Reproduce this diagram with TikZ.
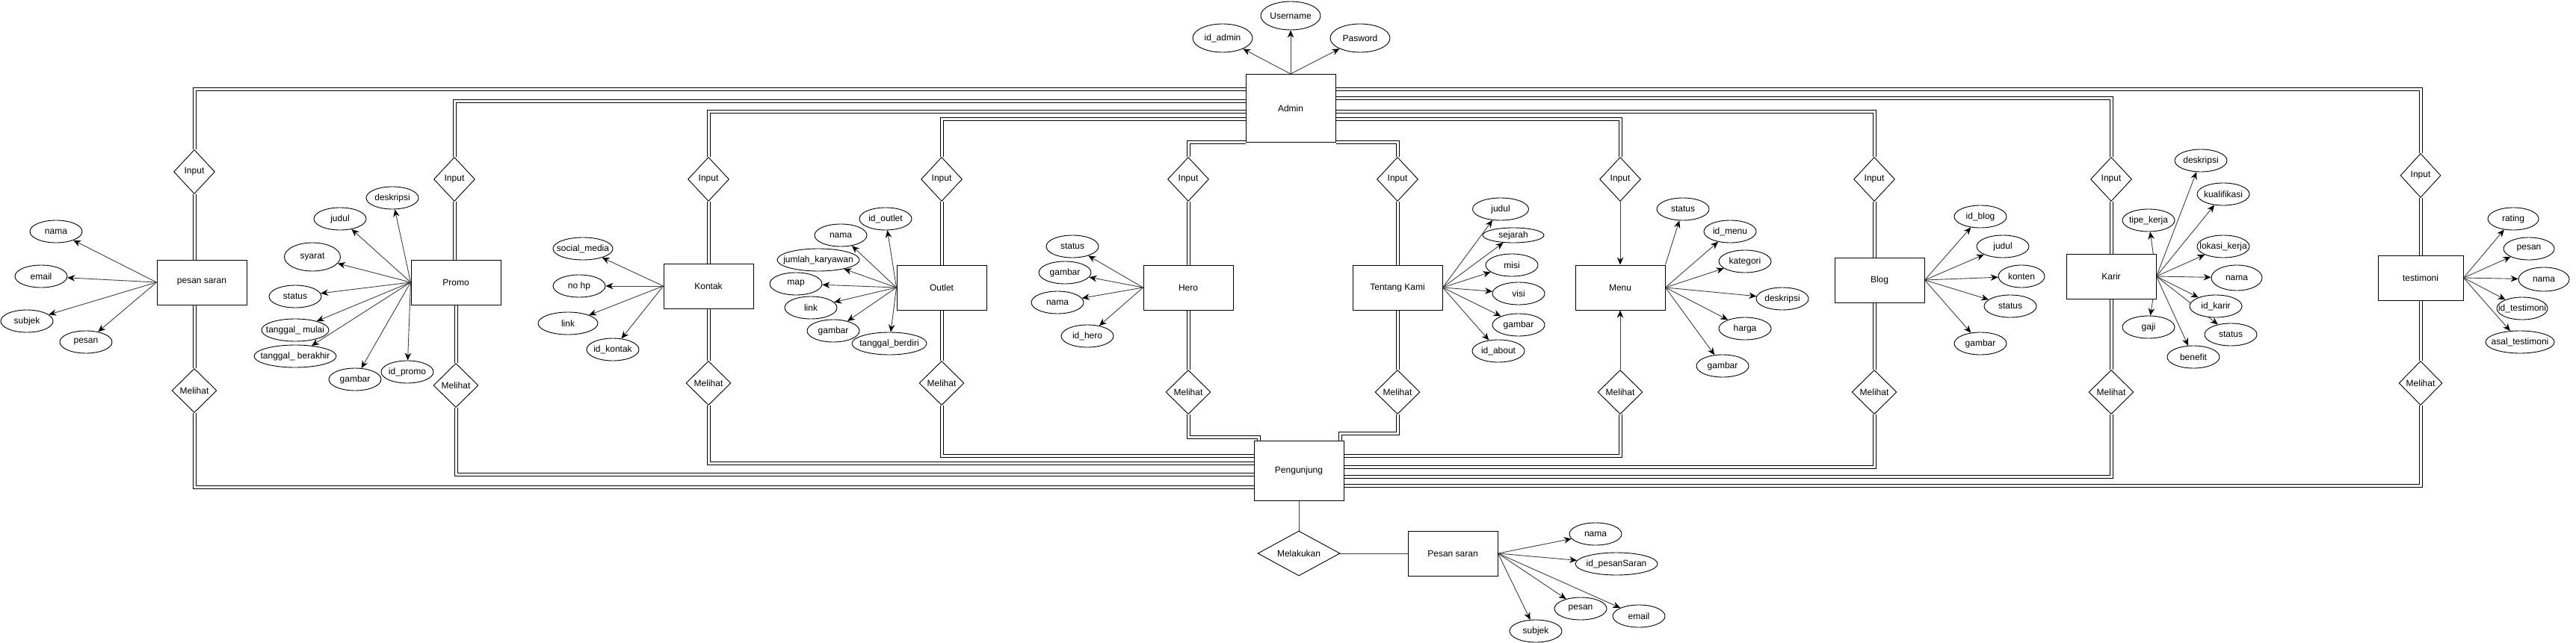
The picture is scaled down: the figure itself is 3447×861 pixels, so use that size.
\documentclass[tikz,border=0pt]{standalone}
\usepackage{fontspec}
\setmainfont{Liberation Sans}
\usetikzlibrary{shapes.geometric,arrows.meta,backgrounds}
\begin{document}
\begin{tikzpicture}[x=1pt,y=-1pt,
  every node/.style={font=\fontsize{12}{14}\selectfont},
  zw/.style={execute at begin node={\hbox to 0pt\bgroup\hss}, execute at end node={\hss\egroup}},
  ent/.style={draw, fill=white, rectangle, minimum width=120pt, minimum height=60pt, inner sep=0pt, line width=1pt},
  attr/.style={draw, fill=white, ellipse, minimum width=#1, minimum height=30pt, inner sep=0pt, line width=0.9pt, zw},
  attr/.default=70pt,
  rel/.style={draw, fill=white, diamond, minimum width=#1, minimum height=59pt, inner sep=0pt, line width=0.9pt, zw},
  dbl/.style={draw=black, double=white, double distance=3pt, line width=1pt},
  arr/.style={draw=black!75, line width=0.9pt, -{Stealth[length=10pt,width=8.5pt,color=black]}},
  ln/.style={draw=black!75, line width=1pt}
]
\useasboundingbox (0,0) rectangle (3447,861);

% ---------- Admin ----------
\node[ent, minimum height=91pt] (admin) at (1727,145) {Admin};
\node[attr=80pt, minimum height=38pt] (adid) at (1636,51) {id\_admin};
\node[attr=80pt, minimum height=38pt] (aduser) at (1727,21) {Username};
\node[attr=80pt, minimum height=38pt] (adpass) at (1820,51) {Pasword};

% ---------- pesan saran ----------
\node[rel=55pt] (in1) at (260,230) {Input};
\node[ent] (e1) at (270,378) {pesan saran};
\node[rel=60pt] (m1) at (260,523) {Melihat};
\node[attr] (a1a) at (75,310) {nama};
\node[attr] (a1b) at (55,370) {email};
\node[attr] (a1c) at (36,430) {subjek};
\node[attr] (a1d) at (115,458) {pesan};

% ---------- Promo ----------
\node[rel=55pt] (in2) at (608,240) {Input};
\node[ent] (e2) at (610,378) {Promo};
\node[rel=60pt] (m2) at (610,516) {Melihat};
\node[attr] (a2a) at (525,265) {deskripsi};
\node[attr] (a2b) at (455,293) {judul};
\node[attr=75pt, minimum height=38pt] (a2c) at (418,344) {syarat};
\node[attr] (a2d) at (395,397) {status};
\node[attr=90pt] (a2e) at (395,442) {tanggal\_ mulai};
\node[attr=110pt] (a2f) at (395,477) {tanggal\_ berakhir};
\node[attr] (a2g) at (475,508) {gambar};
\node[attr] (a2h) at (545,498) {id\_promo};

% ---------- Kontak ----------
\node[rel=55pt] (in3) at (948,240) {Input};
\node[ent] (e3) at (948,383) {Kontak};
\node[rel=60pt] (m3) at (948,513) {Melihat};
\node[attr=80pt] (a3a) at (780,333) {social\_media};
\node[attr] (a3b) at (775,383) {no hp};
\node[attr=80pt] (a3c) at (760,433) {link};
\node[attr] (a3d) at (820,468) {id\_kontak};

% ---------- Outlet ----------
\node[rel=55pt] (in4) at (1260,240) {Input};
\node[ent] (e4) at (1260,385) {Outlet};
\node[rel=60pt] (m4) at (1260,513) {Melihat};
\node[attr] (a4a) at (1185,293) {id\_outlet};
\node[attr] (a4b) at (1125,315) {nama};
\node[attr=110pt] (a4c) at (1095,348) {jumlah\_karyawan};
\node[attr] (a4d) at (1065,380) {map};
\node[attr] (a4e) at (1085,412) {link};
\node[attr] (a4f) at (1115,443) {gambar};
\node[attr=100pt] (a4g) at (1190,460) {tanggal\_berdiri};

% ---------- Hero ----------
\node[rel=55pt] (in5) at (1590,240) {Input};
\node[ent] (e5) at (1590,385) {Hero};
\node[rel=60pt] (m5) at (1590,525) {Melihat};
\node[attr] (a5a) at (1435,330) {status};
\node[attr] (a5b) at (1425,365) {gambar};
\node[attr] (a5c) at (1415,405) {nama};
\node[attr] (a5d) at (1455,450) {id\_hero};

% ---------- Tentang Kami ----------
\node[rel=55pt] (in6) at (1870,240) {Input};
\node[ent] (e6) at (1870,385) {Tentang Kami};
\node[rel=60pt] (m6) at (1870,525) {Melihat};
\node[attr=75pt] (a6a) at (2008,280) {judul};
\node[attr=82pt, minimum height=20pt] (a6b) at (2025,315) {sejarah};
\node[attr] (a6c) at (2023,355) {misi};
\node[attr] (a6d) at (2032,393) {visi};
\node[attr] (a6e) at (2032,435) {gambar};
\node[attr] (a6f) at (2005,470) {id\_about};

% ---------- Menu ----------
\node[rel=55pt] (in7) at (2168,240) {Input};
\node[ent] (e7) at (2168,385) {Menu};
\node[rel=60pt] (m7) at (2168,525) {Melihat};
\node[attr] (a7a) at (2252,280) {status};
\node[attr] (a7b) at (2315,310) {id\_menu};
\node[attr] (a7c) at (2335,350) {kategori};
\node[attr] (a7d) at (2385,400) {deskripsi};
\node[attr] (a7e) at (2335,440) {harga};
\node[attr] (a7f) at (2305,490) {gambar};

% ---------- Blog ----------
\node[rel=55pt] (in8) at (2508,240) {Input};
\node[ent] (e8) at (2515,375) {Blog};
\node[rel=60pt] (m8) at (2508,525) {Melihat};
\node[attr] (a8a) at (2650,290) {id\_blog};
\node[attr] (a8b) at (2680,330) {judul};
\node[attr=62pt] (a8c) at (2705,370) {konten};
\node[attr] (a8d) at (2690,410) {status};
\node[attr] (a8e) at (2650,460) {gambar};

% ---------- Karir ----------
\node[rel=55pt] (in9) at (2825,240) {Input};
\node[ent] (e9) at (2825,370) {Karir};
\node[rel=60pt] (m9) at (2825,525) {Melihat};
\node[attr] (a9a) at (2945,215) {deskripsi};
\node[attr] (a9b) at (2975,260) {kualifikasi};
\node[attr] (a9c) at (2875,295) {tipe\_kerja};
\node[attr] (a9d) at (2975,330) {lokasi\_kerja};
\node[attr=68pt, minimum height=34pt] (a9e) at (2993,372) {nama};
\node[attr] (a9f) at (2965,410) {id\_karir};
\node[attr] (a9g) at (2985,448) {status};
\node[attr] (a9h) at (2875,438) {gaji};
\node[attr] (a9i) at (2935,478) {benefit};

% ---------- testimoni ----------
\node[rel=54pt] (in10) at (3239,235) {Input};
\node[ent, minimum width=114pt] (e10) at (3239,372) {testimoni};
\node[rel=58pt] (m10) at (3239,513) {Melihat};
\node[attr=68pt] (a10a) at (3363,293) {rating};
\node[attr=68pt] (a10b) at (3384,333) {pesan};
\node[attr=68pt, minimum height=32pt] (a10c) at (3404,374) {nama};
\node[attr=68pt] (a10d) at (3375,413) {id\_testimoni};
\node[attr=92pt] (a10e) at (3372,458) {asal\_testimoni};

% ---------- Pengunjung ----------
\node[ent, minimum height=80pt] (peng) at (1738,630) {Pengunjung};
\node[rel=110pt, minimum height=60pt] (mel) at (1738,741) {Melakukan};
\node[ent] (ps) at (1944,741) {Pesan saran};
\node[attr] (psa) at (2135,715) {nama};
\node[attr=110pt] (psb) at (2163,755) {id\_pesanSaran};
\node[attr] (psc) at (2115,815) {pesan};
\node[attr] (psd) at (2193,825) {email};
\node[attr] (pse) at (2055,845) {subjek};

% ---------- routing levels ----------
\coordinate (yA) at (0,120);
\coordinate (yE) at (0,132);
\coordinate (yB) at (0,136);
\coordinate (yC) at (0,150);
\coordinate (yD) at (0,160);
\coordinate (yS) at (0,610);
\coordinate (yR) at (0,620);
\coordinate (yU) at (0,625);
\coordinate (yQ) at (0,635);
\coordinate (yV) at (0,638);
\coordinate (yW) at (0,650);
\coordinate (yP) at (0,652);
\coordinate (hc) at (1684,585);
\coordinate (tc) at (1793,580);

\begin{scope}[on background layer]
% Admin -> Input (top)
\draw[dbl] (in1.north) |- (admin.west |- yA);
\draw[dbl] (in2.north) |- (admin.west |- yB);
\draw[dbl] (in3.north) |- (admin.west |- yC);
\draw[dbl] (in4.north) |- (admin.west |- yD);
\draw[dbl] (in5.north) |- (admin.south west);
\draw[dbl] (in6.north) |- (admin.south east);
\draw[dbl] (in7.north) |- (admin.east |- yD);
\draw[dbl] (in8.north) |- (admin.east |- yC);
\draw[dbl] (in9.north) |- (admin.east |- yE);
\draw[dbl] (in10.north) |- (admin.east |- yA);

% Input -> entity
\draw[dbl] (in1.south) -- (in1.south |- e1.north);
\draw[dbl] (in2.south) -- (in2.south |- e2.north);
\draw[dbl] (in3.south) -- (in3.south |- e3.north);
\draw[dbl] (in4.south) -- (in4.south |- e4.north);
\draw[dbl] (in5.south) -- (in5.south |- e5.north);
\draw[dbl] (in6.south) -- (in6.south |- e6.north);
\draw[arr] (in7.south) -- (e7.north);
\draw[dbl] (in8.south) -- (in8.south |- e8.north);
\draw[dbl] (in9.south) -- (in9.south |- e9.north);
\draw[dbl] (in10.south) -- (in10.south |- e10.north);

% entity -> Melihat
\draw[dbl] (m1.north |- e1.south) -- (m1.north);
\draw[dbl] (m2.north |- e2.south) -- (m2.north);
\draw[dbl] (m3.north |- e3.south) -- (m3.north);
\draw[dbl] (m4.north |- e4.south) -- (m4.north);
\draw[dbl] (m5.north |- e5.south) -- (m5.north);
\draw[dbl] (m6.north |- e6.south) -- (m6.north);
\draw[arr] (m7.north) -- (e7.south);
\draw[dbl] (m8.north |- e8.south) -- (m8.north);
\draw[dbl] (m9.north |- e9.south) -- (m9.north);
\draw[dbl] (m10.north |- e10.south) -- (m10.north);

% Melihat -> Pengunjung (bottom)
\draw[dbl] (m1.south) |- (peng.west |- yP);
\draw[dbl] (m2.south) |- (peng.west |- yQ);
\draw[dbl] (m3.south) |- (peng.west |- yR);
\draw[dbl] (m4.south) |- (peng.west |- yS);
\draw[dbl] (m5.south) |- (hc) -- (hc |- peng.north);
\draw[dbl] (m6.south) |- (tc) -- (tc |- peng.north);
\draw[dbl] (m7.south) |- (peng.east |- yS);
\draw[dbl] (m8.south) |- (peng.east |- yU);
\draw[dbl] (m9.south) |- (peng.east |- yV);
\draw[dbl] (m10.south) |- (peng.east |- yW);

% Pengunjung - Melakukan - Pesan saran
\draw[ln] (peng.south) -- (mel.north);
\draw[ln] (mel.east) -- (ps.west);

% attribute arrows
\draw[arr] (admin.north) -- (adid);
\draw[arr] (admin.north) -- (aduser);
\draw[arr] (admin.north) -- (adpass);

\foreach \t in {a1a,a1b,a1c,a1d} \draw[arr] (e1.west) -- (\t);
\foreach \t in {a2a,a2b,a2c,a2d,a2e,a2f,a2g,a2h} \draw[arr] (e2.west) -- (\t);
\foreach \t in {a3a,a3b,a3c,a3d} \draw[arr] (e3.west) -- (\t);
\foreach \t in {a4a,a4b,a4c,a4d,a4e,a4f,a4g} \draw[arr] (e4.west) -- (\t);
\foreach \t in {a5a,a5b,a5c,a5d} \draw[arr] (e5.west) -- (\t);
\foreach \t in {a6a,a6b,a6c,a6d,a6e,a6f} \draw[arr] (e6.east) -- (\t);
\draw[arr] (e7.north east) -- (a7a);
\foreach \t in {a7b,a7c,a7d,a7e,a7f} \draw[arr] (e7.east) -- (\t);
\foreach \t in {a8a,a8b,a8c,a8d,a8e} \draw[arr] (e8.east) -- (\t);
\foreach \t in {a9a,a9b,a9c,a9d,a9e,a9f,a9g,a9h,a9i} \draw[arr] (e9.east) -- (\t);
\foreach \t in {a10a,a10b,a10c,a10d,a10e} \draw[arr] (e10.east) -- (\t);
\foreach \t in {psa,psb,psc,psd,pse} \draw[arr] (ps.east) -- (\t);
\end{scope}
\end{tikzpicture}
\end{document}
